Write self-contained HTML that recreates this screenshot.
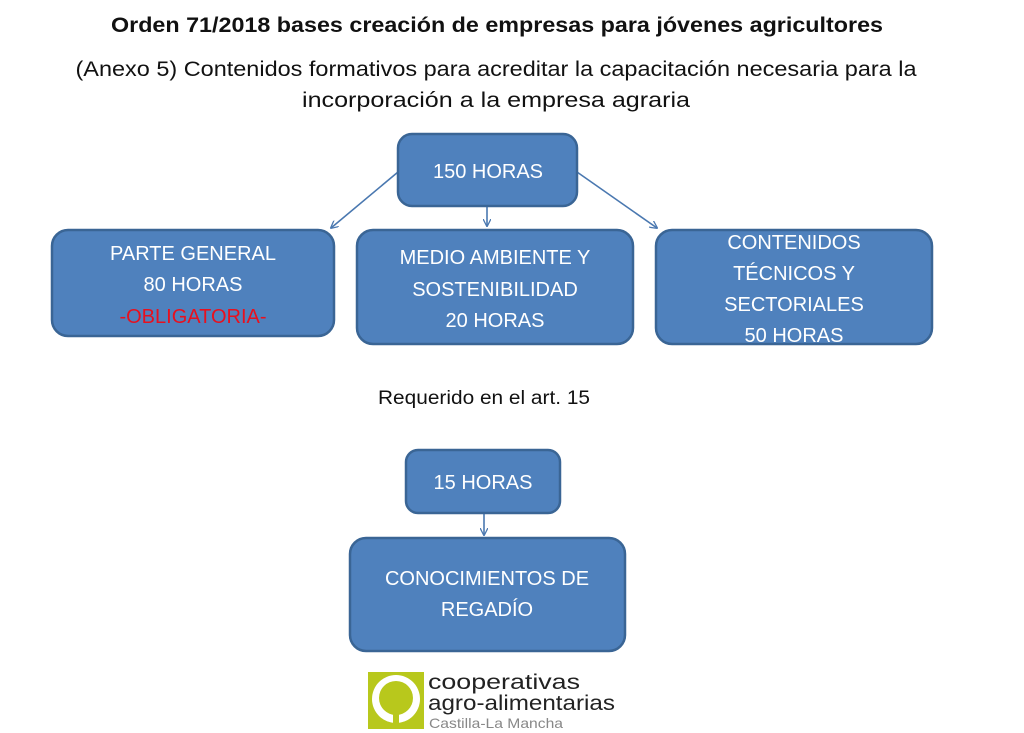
<!DOCTYPE html>
<html><head><meta charset="utf-8"><style>
html,body{margin:0;padding:0;background:#fff;}
svg{display:block;}
</style></head><body>
<svg width="1024" height="733" viewBox="0 0 1024 733" xmlns="http://www.w3.org/2000/svg">
<defs>
<marker id="ah" viewBox="0 0 10 10" refX="9" refY="5" markerWidth="8" markerHeight="8" orient="auto" markerUnits="userSpaceOnUse">
<path d="M0,0 L10,5 L0,10" fill="none" stroke="#4a78b0" stroke-width="1.6"/>
</marker>
</defs>
<g font-family="Liberation Sans, Arial, sans-serif" fill="#111" text-anchor="middle">
<text x="497" y="32" font-size="21" font-weight="bold" textLength="772" lengthAdjust="spacingAndGlyphs">Orden 71/2018 bases creación de empresas para jóvenes agricultores</text>
<text x="496" y="76" font-size="21" textLength="841" lengthAdjust="spacingAndGlyphs">(Anexo 5) Contenidos formativos para acreditar la capacitación necesaria para la</text>
<text x="496" y="107" font-size="21" textLength="388" lengthAdjust="spacingAndGlyphs">incorporación a la empresa agraria</text>
<text x="484" y="404" font-size="19" textLength="212" lengthAdjust="spacingAndGlyphs">Requerido en el art. 15</text>
</g>
<g stroke="#4a78b0" stroke-width="1.6" fill="none" marker-end="url(#ah)">
<line x1="398" y1="172" x2="331" y2="228"/>
<line x1="487" y1="207" x2="487" y2="226"/>
<line x1="577" y1="172" x2="657" y2="228"/>
<line x1="484" y1="514" x2="484" y2="535"/>
</g>
<g fill="#4f81bd" stroke="#3a6595" stroke-width="2.5">
<rect x="398" y="134" width="179" height="72" rx="14"/>
<rect x="52" y="230" width="282" height="106" rx="16"/>
<rect x="357" y="230" width="276" height="114" rx="16"/>
<rect x="656" y="230" width="276" height="114" rx="16"/>
<rect x="406" y="450" width="154" height="63" rx="12"/>
<rect x="350" y="538" width="275" height="113" rx="16"/>
</g>
<g font-family="Liberation Sans, Arial, sans-serif" fill="#fff" font-size="20" text-anchor="middle">
<text x="488" y="178">150 HORAS</text>
<text x="193" y="260">PARTE GENERAL</text>
<text x="193" y="291">80 HORAS</text>
<text x="193" y="323" fill="#e8101e">-OBLIGATORIA-</text>
<text x="495" y="264">MEDIO AMBIENTE Y</text>
<text x="495" y="296">SOSTENIBILIDAD</text>
<text x="495" y="327">20 HORAS</text>
<text x="794" y="249">CONTENIDOS</text>
<text x="794" y="280">TÉCNICOS Y</text>
<text x="794" y="311">SECTORIALES</text>
<text x="794" y="342">50 HORAS</text>
<text x="483" y="489">15 HORAS</text>
<text x="487" y="585">CONOCIMIENTOS DE</text>
<text x="487" y="616">REGADÍO</text>
</g>
<g>
<rect x="368" y="672" width="56" height="57" fill="#b8c81c"/>
<circle cx="396" cy="699" r="24" fill="#fff"/>
<circle cx="396" cy="698" r="17" fill="#b8c81c"/>
<rect x="393" y="710" width="6" height="19" fill="#b8c81c"/>
<text x="428" y="689" font-family="Liberation Sans, Arial, sans-serif" font-size="21" fill="#222" textLength="152" lengthAdjust="spacingAndGlyphs">cooperativas</text>
<text x="428" y="710" font-family="Liberation Sans, Arial, sans-serif" font-size="21" fill="#222" textLength="187" lengthAdjust="spacingAndGlyphs">agro-alimentarias</text>
<text x="429" y="728" font-family="Liberation Sans, Arial, sans-serif" font-size="14" fill="#888" textLength="134" lengthAdjust="spacingAndGlyphs">Castilla-La Mancha</text>
</g>
</svg>
</body></html>
